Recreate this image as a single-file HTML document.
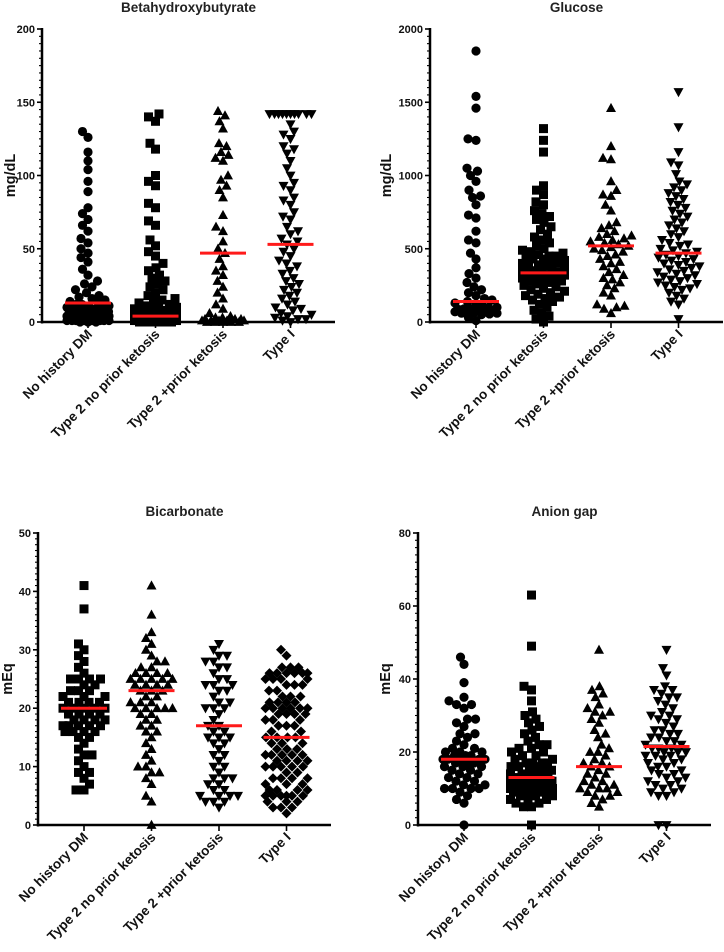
<!DOCTYPE html>
<html><head><meta charset="utf-8"><style>
body{margin:0;background:#fff;}
svg{display:block;font-family:"Liberation Sans",Arial,sans-serif;}
</style></head><body>
<svg id="chart" width="724" height="952" viewBox="0 0 724 952" xmlns="http://www.w3.org/2000/svg"></svg>
<script>
const categories = ["No history DM","Type 2 no prior ketosis","Type 2 +prior ketosis","Type I"];
const titles = ["Betahydroxybutyrate","Glucose","Bicarbonate","Anion gap"];
const yTitles = ["mg/dL","mg/dL","mEq","mEq"];
const yMax = [200,2000,50,80];
const yMajor = [50,500,10,20];
const yMinor = [5,50,1,2];
const shapes = [["circle","square","up","down"],["circle","square","up","down"],["square","up","down","diamond"],["circle","square","up","down"]];
const medians = [[13,4,47,53],[140,335,520,470],[20,23,17,15],[18,13,16,21.5]];

const bhb1 = [130,126,116,110,104,96,89,78,74,70,66,62,57,54,50,47,44,41,36,32,28,26,24,22,20,18,17,16,15,14,13,12,12,11,11,10,10,9,9,8,8,7,7,6,6,6,5,5,5,5,4,4,4,4,3,3,3,3,3,2,2,2,2,2,2,1,1,1,1,1,1,1,1,0,0,0];
const bhb2 = [142,140,137,122,118,100,96,93,81,78,69,66,56,52,48,45,40,37,35,32,30,28,26,24,22,20,18,16,15,14,13,12,11,10,10,9,9,8,8,8,7,7,7,6,6,6,6,5,5,5,5,5,5,4,4,4,4,4,4,4,3,3,3,3,3,3,3,2,2,2,2,2,2,2,1,1,1,1,1,1,1,0,0,0,0,0];
const bhb3 = [144,141,137,132,122,120,116,114,112,110,100,97,93,90,85,73,65,62,55,50,47,43,38,35,32,28,24,20,16,12,9,6,4,3,3,2,2,2,1,1,1,1,1,0,0,0,0,0];
const bhb4 = [142,142,142,142,142,142,142,142,142,142,135,130,128,125,120,118,115,110,105,100,95,93,90,85,83,80,75,72,70,65,62,60,57,55,53,50,48,45,42,40,38,35,33,30,28,26,24,22,20,18,16,14,12,10,9,8,6,5,4,3,2,2,1,0];
const glu1 = [1850,1540,1460,1250,1240,1050,1030,1000,960,900,860,850,800,730,710,620,560,540,470,430,370,330,300,270,240,220,200,180,160,150,140,130,120,110,100,100,90,90,85,80,80,75,70,70,65,60,60,55,50,30,10];
const glu2 = [1320,1240,1160,930,900,870,820,800,760,740,720,700,680,650,630,600,580,560,540,520,500,490,480,470,460,450,450,440,430,430,420,410,400,400,390,380,380,370,360,350,350,340,340,330,320,320,310,300,300,290,280,280,270,260,250,240,230,220,210,200,190,180,170,160,150,140,120,100,80,60,40,20,0];
const glu3 = [1460,1200,1120,1110,960,900,870,860,800,760,680,660,640,620,600,590,580,570,560,550,540,530,520,510,500,490,480,460,450,430,410,400,380,360,340,320,300,290,270,250,230,200,180,120,110,100,90,60];
const glu4 = [1570,1330,1160,1090,1070,1010,960,940,920,900,880,860,840,820,800,780,760,740,720,700,680,660,640,620,600,580,560,540,530,520,500,490,480,470,460,450,440,430,420,410,400,390,380,370,360,350,340,330,320,310,300,290,280,270,260,250,240,230,220,200,180,160,140,120,20];
const bic1 = [41,37,31,30,29,28,27,26,25,25,25,25,24,24,23,23,23,22,22,22,21,21,21,21,20,20,20,20,20,19,19,19,19,18,18,18,18,17,17,17,17,17,16,16,16,16,15,15,14,13,12,12,11,10,9,9,8,7,6,6];
const bic2 = [41,36,33,32,31,30,29,28,28,27,27,26,26,26,26,25,25,25,25,25,24,24,24,24,23,23,23,22,22,21,21,21,20,20,20,20,20,19,19,18,18,17,17,16,16,15,14,13,12,11,10,10,9,9,8,7,5,4,0];
const bic3 = [31,30,29,29,28,28,27,27,26,25,25,24,24,24,23,23,22,21,21,20,20,20,19,18,17,17,16,16,15,15,15,14,14,13,12,12,11,10,10,9,8,8,8,7,7,6,6,5,5,5,5,4,4,4,3];
const bic4 = [30,29,27,27,27,26,26,26,26,26,26,25,25,25,25,24,24,24,23,23,22,22,22,21,21,21,21,20,20,20,20,20,20,19,19,19,19,18,18,18,17,17,17,16,16,15,15,15,15,14,14,14,13,13,13,12,12,12,12,12,11,11,11,11,10,10,10,10,10,9,9,8,8,8,8,7,7,7,6,6,6,6,5,5,5,5,5,5,4,4,4,3,3,3,2];
const ag1 = [46,44,39,35,34,33,33,32,29,29,28,27,25,25,24,23,22,21,21,20,20,20,19,19,19,18,18,18,18,18,17,17,17,16,16,16,15,15,14,14,13,13,12,12,11,11,10,10,10,10,9,8,7,6,0];
const ag2 = [63,49,38,37,34,31,30,29,28,27,26,25,24,23,22,22,21,21,20,20,19,19,18,18,17,17,17,17,16,16,16,15,15,15,14,14,14,13,13,13,13,12,12,12,12,11,11,11,11,11,10,10,10,10,10,9,9,9,9,8,8,8,7,7,7,6,6,5,5,0];
const ag3 = [48,38,37,36,35,33,32,31,31,30,29,28,26,25,24,22,21,20,20,19,18,17,17,16,16,15,14,14,13,12,12,11,11,10,10,10,9,9,8,8,7,6,5];
const ag4 = [48,43,41,38,37,37,36,35,35,34,33,32,31,30,30,29,29,28,27,26,26,25,25,24,24,23,23,22,22,21,21,21,20,20,20,19,19,19,18,18,17,17,16,16,15,15,14,14,13,13,12,12,11,11,10,10,9,9,8,8,0,0];
const panelData = [[bhb1,bhb2,bhb3,bhb4],[glu1,glu2,glu3,glu4],[bic1,bic2,bic3,bic4],[ag1,ag2,ag3,ag4]];

const frames = [{x0:42,yT:29,yB:322,tx:32},{x0:430,yT:29,yB:322,tx:44},{x0:38,yT:533,yB:825,tx:31},{x0:418,yT:533,yB:825,tx:33}];
const NS = "http://www.w3.org/2000/svg";
const svg = document.getElementById("chart");
function mk(tag, attrs, parent){const e=document.createElementNS(NS,tag);for(const k in attrs)e.setAttribute(k,attrs[k]);(parent||svg).appendChild(e);return e;}

function marker(g, shape, cx, cy){
  let e;
  if(shape==="circle"){e=mk("circle",{cx:cx,cy:cy,r:4.6,fill:"#000"},g);}
  else if(shape==="square"){e=mk("rect",{x:cx-4.5,y:cy-4.5,width:9,height:9,fill:"#000"},g);}
  else if(shape==="up"){e=mk("polygon",{points:`${cx},${cy-5.2} ${cx-5},${cy+3.9} ${cx+5},${cy+3.9}`,fill:"#000"},g);}
  else if(shape==="down"){e=mk("polygon",{points:`${cx},${cy+5.2} ${cx-5},${cy-3.9} ${cx+5},${cy-3.9}`,fill:"#000"},g);}
  else {e=mk("polygon",{points:`${cx},${cy-5} ${cx-5},${cy} ${cx},${cy+5} ${cx+5},${cy}`,fill:"#000"},g);}
  
  
}

for(let p=0;p<4;p++){
  const f=frames[p];
  const xEnd=f.x0+293;
  const yScale=v=>f.yB-(v/yMax[p])*(f.yB-f.yT);
  const xScale=i=>f.x0+46+i*67.5;
  const g=mk("g",{});
  
  
  const t=mk("text",{x:(f.x0+xEnd)/2,y:f.yT-17,"text-anchor":"middle","font-size":"13.5","font-weight":"bold",fill:"#222"},g);
  t.textContent=titles[p];
  
  
  const yt=mk("text",{transform:`translate(${f.x0-f.tx+5},${(f.yT+f.yB)/2}) rotate(-90)`,"text-anchor":"middle","font-size":"14.5","font-weight":"bold",fill:"#111"},g);
  yt.textContent=yTitles[p];
  
  
  const ya=mk("line",{x1:f.x0,y1:f.yT-1,x2:f.x0,y2:f.yB+1.5,stroke:"#000","stroke-width":2.5},g);
  
  
  for(let v=0;v<=yMax[p]+1e-9;v+=yMinor[p]){
    const isMaj=Math.abs(v/yMajor[p]-Math.round(v/yMajor[p]))<1e-6;
    const y=yScale(v);
    mk("line",{x1:f.x0-(isMaj?5:3),y1:y,x2:f.x0,y2:y,stroke:"#000","stroke-width":isMaj?1.6:1.1},g);
    if(isMaj){
      const tl=mk("text",{x:f.x0-7,y:y+4,"text-anchor":"end","font-size":"11","font-weight":"bold",fill:"#111"},g);
      tl.textContent=String(Math.round(v));
      
      
    }
  }
  const xa=mk("line",{x1:f.x0-1,y1:f.yB,x2:xEnd,y2:f.yB,stroke:"#000","stroke-width":2.5},g);
  
  
  for(let i=0;i<4;i++){
    const cx=xScale(i);
    mk("line",{x1:cx,y1:f.yB,x2:cx,y2:f.yB+6,stroke:"#000","stroke-width":1.6},g);
    const xl=mk("text",{transform:`translate(${cx+5},${f.yB+13}) rotate(-45)`,"text-anchor":"end","font-size":"13.5","font-weight":"bold",fill:"#111"},g);
    xl.textContent=categories[i];
    
    
    const vals=panelData[p][i].slice().sort((a,b)=>a-b);
    const placed=[];
    const sg=mk("g",{},g);
    
    
    const D=8, MAXO=21;
    for(const v of vals){
      const y=yScale(v);
      let off=null, best=-1, bestO=0;
      for(let k=0;k<=MAXO*4;k++){
        const o=(k%2===0?1:-1)*Math.ceil(k/2)*0.5;
        if(Math.abs(o)>MAXO) break;
        let md=1e9;
        for(const q of placed){const dx=q[0]-o,dy=q[1]-y;const d=dx*dx+dy*dy;if(d<md)md=d;}
        if(md>=D*D){off=o;break;}
        if(md>best+0.01){best=md;bestO=o;}
      }
      if(off===null) off=bestO;
      placed.push([off,y]);
      marker(sg,shapes[p][i],cx+off,y);
    }
    const my=yScale(medians[p][i]);
    const ml=mk("line",{x1:cx-23,y1:my,x2:cx+23,y2:my,stroke:"#ff1a1a","stroke-width":3},g);
    
    
  }
}
</script>
</body></html>
